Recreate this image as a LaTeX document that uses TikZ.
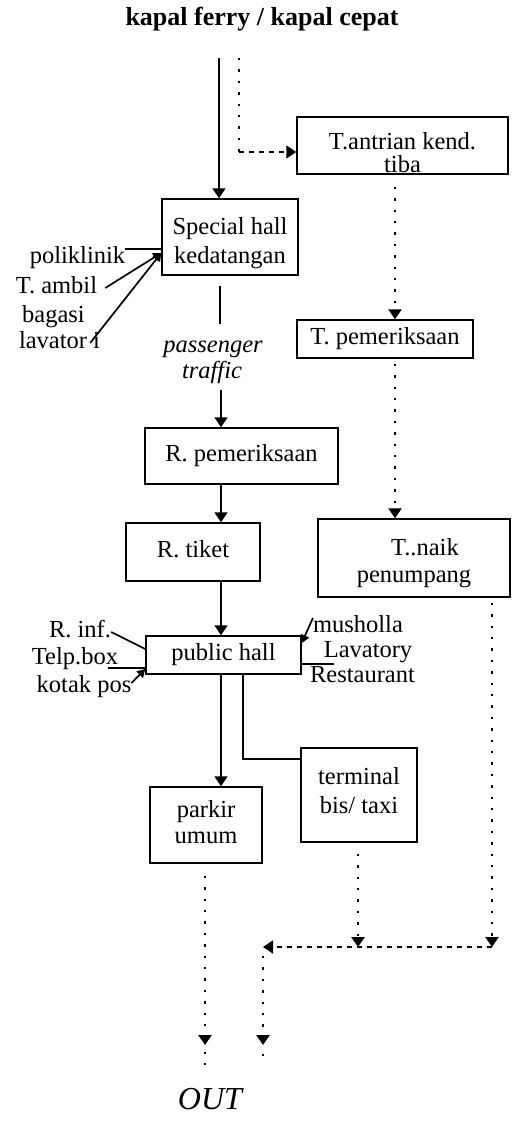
\documentclass[tikz,border=0pt]{standalone}
\usepackage{fontspec}
\setmainfont{Liberation Serif}
\usetikzlibrary{arrows.meta,calc}
% two-line box text; #1 moves the text down inside its box
\newcommand\btext[2]{\raisebox{0pt}[\dimexpr\height+#1\relax][\dimexpr\depth-#1\relax]{\begin{tabular}{@{}c@{}}#2\end{tabular}}}

\begin{document}
\begin{tikzpicture}[x=1pt,y=-1pt,
  every node/.style={font=\fontsize{24.5}{29}\selectfont, inner sep=0pt},
  fixtext/.style={text height=17pt, text depth=5.5pt},
  boxed/.style={draw, line width=1.5pt, rectangle},
  lbl/.style={fixtext},
  conn/.style={line width=1.7pt, line join=miter},
  arrowend/.style={-{Triangle[width=13pt,length=10pt]}},
  smalltip/.style={-{Triangle[width=9pt,length=8pt]}},
  dotline/.style={line width=2.6pt, dash pattern=on 2.4pt off 9pt},
  dashes/.style={line width=1.7pt, dash pattern=on 5pt off 5pt}]

\useasboundingbox (0,0) rectangle (517,1128);

% heading
\node[font=\bfseries\fontsize{26}{30}\selectfont] (title) at (262,19) {kapal ferry / kapal cepat};

% boxes
\node[boxed, minimum width=211pt, minimum height=57pt] (antr) at (402.5,145.5)
  {\def\arraystretch{0.72}\btext{10pt}{T.antrian kend.\\tiba}};
\node[boxed, minimum width=136pt, minimum height=76pt] (spec) at (230,237)
  {\btext{6pt}{Special hall\\kedatangan}};
\node[boxed, fixtext, minimum width=176pt, minimum height=38pt] (tper) at (385,339) {T. pemeriksaan};
\node[boxed, fixtext, minimum width=193pt, minimum height=56pt] (rper) at (241.5,456) {R. pemeriksaan};
\node[boxed, fixtext, minimum width=134pt, minimum height=58pt] (rtik) at (193,552) {R. tiket};
\node[boxed, minimum width=192pt, minimum height=78pt] (tnaik) at (414,558)
  {\def\arraystretch{0.93}\btext{5.5pt}{\hspace*{22pt}T..naik\\penumpang}};
\node[boxed, fixtext, minimum width=155pt, minimum height=38pt] (phall) at (223.5,655) {public hall};
\node[boxed, minimum width=116pt, minimum height=94pt] (term) at (359,795)
  {\def\arraystretch{1.03}\btext{-2pt}{terminal\\bis/ taxi}};
\node[boxed, minimum width=112pt, minimum height=76pt] (park) at (206,825)
  {\def\arraystretch{0.9}\btext{0pt}{parkir\\umum}};

% side labels
\node[lbl] (poli) at (77.5,258) {poliklinik};
\node[lbl] (tamb) at (56.5,288) {T. ambil};
\node[lbl] (bag)  at (53.5,317) {bagasi};
\node[lbl] (lavi) at (59.5,343) {lavator i};
\node[lbl, font=\itshape\fontsize{24.5}{29}\selectfont] (pass) at (213,347) {passenger};
\node[lbl, font=\itshape\fontsize{24.5}{29}\selectfont] (traf) at (212,373) {traffic};
\node[lbl] (rinf)  at (80,632)  {R. inf.};
\node[lbl] (telp)  at (75,659)  {Telp.box};
\node[lbl] (kotak) at (84,687)  {kotak pos};
\node[lbl] (mush)  at (358,627) {musholla};
\node[lbl] (lavy)  at (368,652) {Lavatory};
\node[lbl] (rest)  at (362.5,677) {Restaurant};
\node[font=\itshape\fontsize{32}{36}\selectfont] (out) at (210,1099) {OUT};

% reference points of the connectors
\coordinate (src1) at (219,58);
\coordinate (src2) at (239,58);
\coordinate (bend1) at (239,152);
\coordinate (mainx) at (221,0);
\coordinate (busx) at (243,0);
\coordinate (rx1) at (395,0);
\coordinate (rx2) at (492,0);
\coordinate (tx) at (358,0);
\coordinate (cR) at (492,947);
\coordinate (cL) at (263,947);
\coordinate (outA) at (205,1045);
\coordinate (outB) at (263,1045);

% passenger flow
\draw[conn, arrowend] (src1) -- (src1 |- spec.north);
\draw[conn] ($(spec.south -| mainx)+(-1,10)$) -- ($(pass.north -| mainx)+(-1,-12)$);
\draw[conn, arrowend] ($(traf.south -| mainx)+(0,6)$) -- (rper.north -| mainx);
\draw[conn, arrowend] (rper.south -| mainx) -- (rtik.north -| mainx);
\draw[conn, arrowend] (rtik.south -| mainx) -- (phall.north -| mainx);
\draw[conn, arrowend] (phall.south -| mainx) -- (park.north -| mainx);
\draw[conn] (phall.south -| busx) |- ([yshift=36pt]term.west);

% facilities
\draw[conn] ([yshift=9pt]poli.east) -- ([yshift=-12pt]spec.west);
\draw[conn, smalltip] ([xshift=8pt]tamb.east) -- ([yshift=-16pt]spec.west);
\draw[conn, smalltip] ([xshift=-10pt]lavi.east) -- ([yshift=-16pt]spec.west);
\draw[conn] (rinf.east) -- ([yshift=6pt]phall.west);
\draw[conn] ([xshift=-10pt,yshift=-9pt]telp.east) -- ([yshift=-13pt]phall.west);
\draw[conn, smalltip] ([yshift=4pt]kotak.east) -- ([yshift=-14pt]phall.west);
\draw[conn, smalltip] ([yshift=9pt]mush.west) -- ([yshift=12pt]phall.east);
\draw[conn] ([yshift=-9pt]phall.east) -- ([xshift=10pt,yshift=-12pt]lavy.west);

% vehicle flow
\draw[dotline] (src2) -- (bend1);
\draw[dashes, arrowend] (bend1) -- (bend1 -| antr.west);
\draw[dotline, arrowend] ($(antr.south -| rx1)+(0,12)$) -- (tper.north -| rx1);
\draw[dotline, arrowend] ($(tper.south -| rx1)+(0,5)$) -- (tnaik.north -| rx1);
\draw[dotline, arrowend] ($(tnaik.south -| rx2)+(0,5)$) -- (cR);
\draw[dotline, arrowend] ($(term.south -| tx)+(0,11)$) -- (tx |- cR);
\draw[dashes, arrowend] (cR) -- (cL);
\draw[dotline, arrowend] ($(cL)+(0,9)$) -- (outB);
\draw[dotline, arrowend] ($(park.south -| outA)+(0,12)$) -- (outA);
\draw[dotline] ($(outA)+(0,7)$) -- ($(outA)+(0,20)$);
\draw[dotline] ($(outB)+(0,9)$) -- ($(outB)+(0,12)$);
\end{tikzpicture}
\end{document}
